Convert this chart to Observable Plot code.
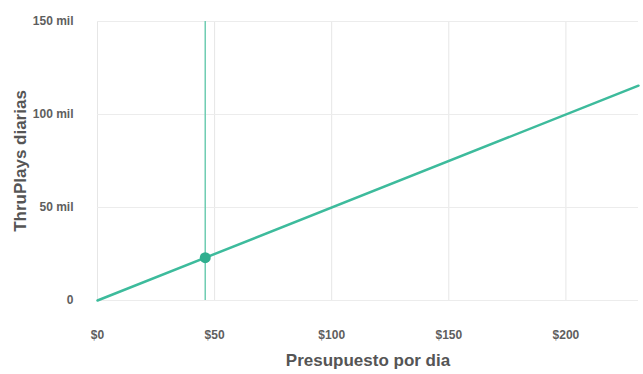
<!DOCTYPE html>
<html>
<head>
<meta charset="utf-8">
<script src="https://cdn.jsdelivr.net/npm/d3@7"></script>
<script src="https://cdn.jsdelivr.net/npm/@observablehq/plot@0.6"></script>
<style>
  html, body { margin: 0; padding: 0; background: #fff; }
  #chart svg { display: block; }
</style>
</head>
<body>
<div id="chart"></div>
<script>
// Data (ThruPlays in thousands, "mil")
const budgets = [0, 231];
const thruPlays = [0, 115.5];
const selectedBudget = [46];
const selectedThruPlays = [23];
const xTicks = [0, 50, 100, 150, 200];
const yTicks = [0, 50, 100, 150];
const xTitle = "Presupuesto por dia";
const yTitle = "ThruPlays diarias";

const lineData = budgets.map((b, i) => ({budget: b, plays: thruPlays[i]}));
const pointData = selectedBudget.map((b, i) => ({budget: b, plays: selectedThruPlays[i]}));

const teal = "#3dbb9c";
const font = "'Liberation Sans', Arial, sans-serif";

const chart = Plot.plot({
  width: 643,
  height: 374,
  marginLeft: 97,
  marginRight: 5,
  marginTop: 21,
  marginBottom: 74,
  style: {fontFamily: font, fontSize: "12px", color: "#555", background: "#fff"},
  x: {domain: [0, 231]},
  y: {domain: [0, 150]},
  marks: [
    Plot.gridX(xTicks, {stroke: "#e6e6e6", strokeOpacity: 1}),
    Plot.gridY(yTicks, {stroke: "#ececec", strokeOpacity: 1}),
    Plot.axisX(xTicks, {tickSize: 0, tickPadding: 30, tickFormat: d => "$" + d, label: null, fill: "#5e5e5e", fontWeight: "bold"}),
    Plot.axisY(yTicks, {tickSize: 0, tickPadding: 24, tickFormat: d => d === 0 ? "0" : d + " mil", label: null, fill: "#5e5e5e", fontWeight: "bold"}),
    Plot.ruleX(pointData, {x: "budget", stroke: "#6fcdb2", strokeWidth: 1.5}),
    Plot.line(lineData, {x: "budget", y: "plays", stroke: teal, strokeWidth: 2.5}),
    Plot.dot(pointData, {x: "budget", y: "plays", r: 5.5, fill: "#2fae8e", stroke: "none"}),
    Plot.text([xTitle], {frameAnchor: "bottom", dy: 65, fontSize: 17, fontWeight: "bold", fill: "#555"}),
    Plot.text([yTitle], {frameAnchor: "left", dx: -77, rotate: -90, textAnchor: "middle", fontSize: 17, fontWeight: "bold", fill: "#555"})
  ]
});
document.getElementById("chart").append(chart);
</script>
</body>
</html>
